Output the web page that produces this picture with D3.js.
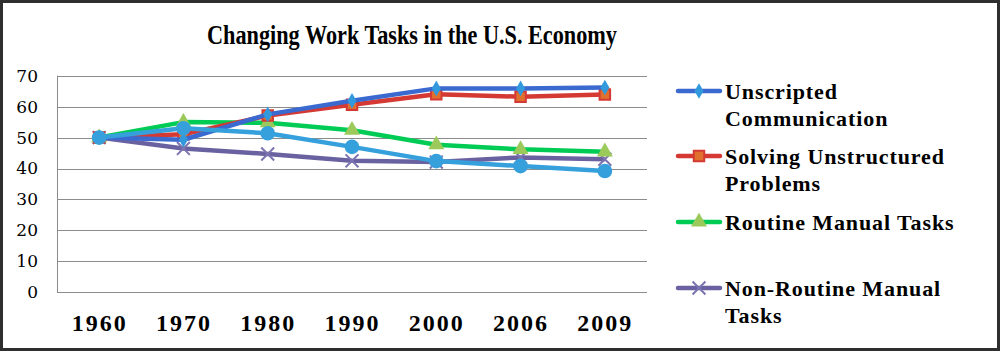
<!DOCTYPE html>
<html>
<head>
<meta charset="utf-8">
<script src="https://cdn.jsdelivr.net/npm/d3@7"></script>
<style>
  body { margin: 0; background: #fff; }
  svg { display: block; }
</style>
</head>
<body>
<svg id="chart"></svg>
<script>
const years = ["1960", "1970", "1980", "1990", "2000", "2006", "2009"];
const yTicks = [0, 10, 20, 30, 40, 50, 60, 70];

const unscripted = [50, 49.3, 57.5, 61.9, 65.9, 65.9, 66.2];
const unstructured = [50, 51.1, 57.1, 60.6, 64.0, 63.2, 63.9];
const routineManual = [50, 55.0, 54.8, 52.4, 47.7, 46.2, 45.4];
const routineCognitive = [50, 53.0, 51.4, 47.0, 42.4, 40.8, 39.2];
const nonRoutineManual = [50, 46.5, 44.7, 42.5, 42.1, 43.6, 43.0];

// drawing order: last drawn sits on top
const series = [
    { name: "Non-Routine Manual Tasks", values: nonRoutineManual, line: "#6a62a0", marker: "cross", fill: "#7b74b0" },
    { name: "Routine Manual Tasks", values: routineManual, line: "#00cc55", marker: "triangle", fill: "#9bc95a" },
    { name: "Solving Unstructured Problems", values: unstructured, line: "#d43a33", marker: "square", fill: "#e0702e" },
    { name: "Unscripted Communication", values: unscripted, line: "#3a6ad0", marker: "diamond", fill: "#3399dd" },
    { name: "", values: routineCognitive, line: "#35a0dc", marker: "circle", fill: "#35a0dc" }
];

const serif = "'Liberation Serif', 'Times New Roman', serif";
const width = 1003, height = 354;
const svg = d3.select("#chart").attr("width", width).attr("height", height);

svg.append("rect")
    .attr("x", 1.5).attr("y", 1.5)
    .attr("width", 997).attr("height", 348)
    .attr("fill", "#fff")
    .attr("stroke", "#2e2e2e")
    .attr("stroke-width", 3);

svg.append("text")
    .attr("x", 207).attr("y", 44)
    .attr("textLength", 410)
    .attr("lengthAdjust", "spacingAndGlyphs")
    .style("font-family", serif)
    .style("font-weight", "bold")
    .style("font-size", "27px")
    .text("Changing Work Tasks in the U.S. Economy");

const plot = { left: 57, right: 647, top: 75.7, bottom: 292.3 };

const x = d3.scalePoint()
    .domain(years)
    .range([plot.left, plot.right])
    .padding(0.5);

const y = d3.scaleLinear()
    .domain([0, 70])
    .range([plot.bottom, plot.top]);

// gridlines
svg.append("g")
    .selectAll("line")
    .data(yTicks)
    .join("line")
    .attr("x1", plot.left).attr("x2", plot.right)
    .attr("y1", d => Math.round(y(d)) + 0.5)
    .attr("y2", d => Math.round(y(d)) + 0.5)
    .attr("stroke", "#8c8c8c")
    .attr("stroke-width", 1);

svg.append("line")
    .attr("x1", plot.left + 0.5).attr("x2", plot.left + 0.5)
    .attr("y1", plot.top).attr("y2", plot.bottom)
    .attr("stroke", "#8c8c8c");

// y axis labels
const yAxis = d3.axisLeft(y).tickValues(yTicks).tickSize(0).tickPadding(19);
svg.append("g")
    .attr("transform", `translate(${plot.left},0)`)
    .call(yAxis)
    .call(g => g.select(".domain").remove())
    .call(g => g.selectAll("text")
        .style("font-family", "'DejaVu Serif', serif")
        .style("font-size", "17px")
        .attr("fill", "#000"));

// x axis labels
const xAxis = d3.axisBottom(x).tickSize(0).tickPadding(22);
svg.append("g")
    .attr("transform", `translate(0,${plot.bottom})`)
    .call(xAxis)
    .call(g => g.select(".domain").remove())
    .call(g => g.selectAll("text")
        .style("font-family", serif)
        .style("font-weight", "bold")
        .style("font-size", "24px")
        .style("letter-spacing", "2px")
        .attr("fill", "#000"));

const line = d3.line()
    .x((d, i) => x(years[i]))
    .y(d => y(d));

const symbolFor = {
    diamond: d3.symbol().type(d3.symbolDiamond).size(70),
    square: d3.symbol().type(d3.symbolSquare).size(110),
    triangle: d3.symbol().type(d3.symbolTriangle).size(110),
    circle: d3.symbol().type(d3.symbolCircle).size(170),
    cross: d3.symbol().type(d3.symbolX).size(110)
};

function drawMarker(g, s, cx, cy) {
    const p = g.append("path")
        .attr("d", symbolFor[s.marker]())
        .attr("transform", `translate(${cx},${cy})`);
    if (s.marker === "cross") {
        p.attr("fill", "none").attr("stroke", s.fill).attr("stroke-width", 2);
    } else if (s.marker === "square") {
        p.attr("fill", s.fill).attr("stroke", s.line).attr("stroke-width", 2);
    } else {
        p.attr("fill", s.fill).attr("stroke", "none");
    }
}

const lines = svg.append("g");
series.forEach(s => {
    const g = lines.append("g");
    g.append("path")
        .datum(s.values)
        .attr("d", line)
        .attr("fill", "none")
        .attr("stroke", s.line)
        .attr("stroke-width", 4.5)
        .attr("stroke-linejoin", "round");
    s.values.forEach((v, i) => drawMarker(g, s, x(years[i]), y(v)));
});

// legend
const legendRows = [
    { s: series[3], y: 91, lines: ["Unscripted", "Communication"] },
    { s: series[2], y: 156, lines: ["Solving Unstructured", "Problems"] },
    { s: series[1], y: 222, lines: ["Routine Manual Tasks"] },
    { s: series[0], y: 288, lines: ["Non-Routine Manual", "Tasks"] }
];

const legend = svg.append("g");
legendRows.forEach(r => {
    const g = legend.append("g");
    g.append("line")
        .attr("x1", 678).attr("x2", 720)
        .attr("y1", r.y).attr("y2", r.y)
        .attr("stroke", r.s.line)
        .attr("stroke-width", 4.5)
        .attr("stroke-linecap", "round");
    drawMarker(g, r.s, 699, r.y);
    r.lines.forEach((t, i) => {
        g.append("text")
            .attr("x", 725)
            .attr("y", r.y + 8 + i * 27)
            .style("font-family", serif)
            .style("font-weight", "bold")
            .style("font-size", "22px")
            .style("letter-spacing", "0.9px")
            .attr("fill", "#000")
            .text(t);
    });
});
</script>
</body>
</html>
